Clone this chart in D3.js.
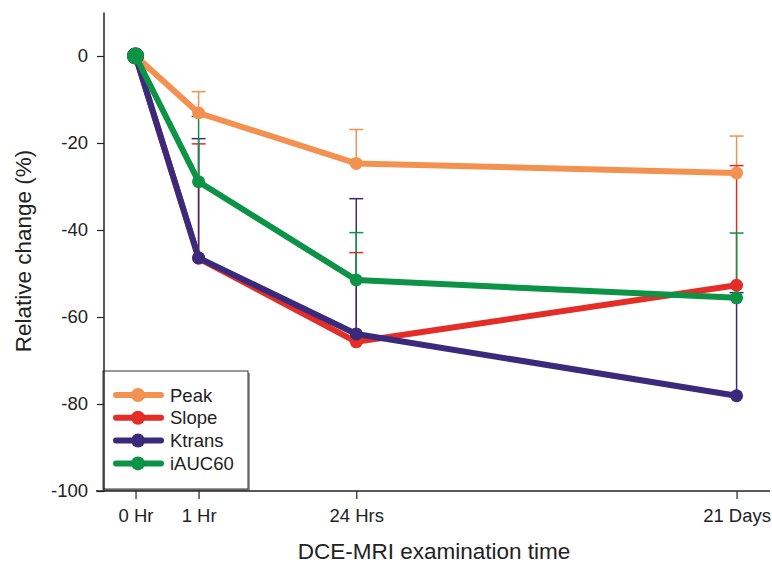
<!DOCTYPE html>
<html>
<head>
<meta charset="utf-8">
<script src="https://cdn.jsdelivr.net/npm/d3@7"></script>
<style>
  body { margin: 0; background: #fff; }
  svg { font-family: "Liberation Sans", Arial, sans-serif; }
</style>
</head>
<body>
<svg id="chart" width="772" height="570"></svg>
<script>
// time points and their place along the (non-linear) x axis
const timeLabels = ['0 Hr', '1 Hr', '24 Hrs', '21 Days'];
const timePos = [0, 1, 3.5, 9.53];

const seriesNames = ['Peak', 'Slope', 'Ktrans', 'iAUC60'];
const seriesColors = ['#F39150', '#E42D27', '#3B2A7C', '#0C9346'];

// mean relative change (%)
const peakMean = [0, -13.1, -24.7, -26.9];
const slopeMean = [0, -46.5, -65.7, -52.7];
const ktransMean = [0, -46.4, -63.9, -78.1];
const iaucMean = [0, -28.9, -51.5, -55.6];

// top of the error bar (%), null = no bar
const peakErr = [null, -8.2, -16.9, -18.4];
const slopeErr = [null, -20.2, -45.2, -25.2];
const ktransErr = [null, -19.0, -32.8, -54.4];
const iaucErr = [null, -13.9, -40.6, -40.7];

const yTicks = [0, -20, -40, -60, -80, -100];

const means = [peakMean, slopeMean, ktransMean, iaucMean];
const errs = [peakErr, slopeErr, ktransErr, iaucErr];

const svg = d3.select('#chart');

const x = d3.scaleLinear().domain([-0.5, 10.06]).range([104, 770]);
const y = d3.scaleLinear().domain([-100, 10]).range([491, 12.5]);

// legend box (behind the axes)
let legend = svg.append('g');
legend.append('rect')
    .attr('x', 105).attr('y', 373)
    .attr('width', 145).attr('height', 118)
    .attr('fill', '#999');
legend.append('rect')
    .attr('x', 103).attr('y', 371)
    .attr('width', 145).attr('height', 118)
    .attr('fill', '#fff')
    .attr('stroke', '#333')
    .attr('stroke-width', 1);

seriesNames.forEach(function(name, i) {
    let ly = 395 + i * 22.8;
    legend.append('line')
        .attr('x1', 116).attr('x2', 161)
        .attr('y1', ly).attr('y2', ly)
        .attr('stroke', seriesColors[i])
        .attr('stroke-width', 6)
        .attr('stroke-linecap', 'round');
    legend.append('circle')
        .attr('cx', 138).attr('cy', ly).attr('r', 7)
        .attr('fill', seriesColors[i]);
    legend.append('text')
        .attr('x', 170).attr('y', ly + 6.5)
        .attr('font-size', 18.5)
        .attr('fill', '#222')
        .text(name);
});

// axes
let yAxis = svg.append('g')
    .attr('transform', 'translate(104,0)')
    .call(d3.axisLeft(y).tickValues(yTicks)
        .tickFormat(function(d) { return String(d); })
        .tickSize(7).tickSizeOuter(0).tickPadding(9));
yAxis.select('.domain').remove();
yAxis.append('line')
    .attr('x1', 0).attr('x2', 0)
    .attr('y1', y(10)).attr('y2', y(-100) + 1)
    .attr('stroke', '#222').attr('stroke-width', 1.5);
yAxis.selectAll('.tick line').attr('stroke', '#222').attr('stroke-width', 1.2);
yAxis.selectAll('.tick text')
    .attr('font-size', 18.5)
    .attr('font-family', '"Liberation Sans", Arial, sans-serif')
    .attr('fill', '#222');

let xAxis = svg.append('g')
    .attr('transform', 'translate(0,491)')
    .call(d3.axisBottom(x).tickValues(timePos)
        .tickFormat(function(d, i) { return timeLabels[i]; })
        .tickSize(8).tickSizeOuter(0).tickPadding(10));
xAxis.select('.domain').remove();
xAxis.append('line')
    .attr('x1', 96).attr('x2', 770)
    .attr('y1', 0).attr('y2', 0)
    .attr('stroke', '#222').attr('stroke-width', 1.5);
xAxis.selectAll('.tick line').attr('stroke', '#222').attr('stroke-width', 1.2);
xAxis.selectAll('.tick text')
    .attr('font-size', 18.5)
    .attr('font-family', '"Liberation Sans", Arial, sans-serif')
    .attr('fill', '#222');

// axis titles
svg.append('text')
    .attr('x', 434).attr('y', 559)
    .attr('text-anchor', 'middle')
    .attr('font-size', 22.5)
    .attr('fill', '#222')
    .text('DCE-MRI examination time');

svg.append('text')
    .attr('transform', 'translate(31,251) rotate(-90)')
    .attr('text-anchor', 'middle')
    .attr('font-size', 22.5)
    .attr('fill', '#222')
    .text('Relative change (%)');

// error bars
const capW = 7;
means.forEach(function(vals, s) {
    let g = svg.append('g');
    vals.forEach(function(v, i) {
        let e = errs[s][i];
        if (e === null) return;
        g.append('line')
            .attr('x1', x(timePos[i])).attr('x2', x(timePos[i]))
            .attr('y1', y(v)).attr('y2', y(e))
            .attr('stroke', seriesColors[s])
            .attr('stroke-width', 1.5);
        g.append('line')
            .attr('x1', x(timePos[i]) - capW).attr('x2', x(timePos[i]) + capW)
            .attr('y1', y(e)).attr('y2', y(e))
            .attr('stroke', seriesColors[s])
            .attr('stroke-width', 1.5);
    });
});

// lines and markers
let line = d3.line()
    .x(function(d) { return x(d[0]); })
    .y(function(d) { return y(d[1]); });

means.forEach(function(vals, s) {
    let pts = vals.map(function(v, i) { return [timePos[i], v]; });
    svg.append('path')
        .attr('d', line(pts))
        .attr('fill', 'none')
        .attr('stroke', seriesColors[s])
        .attr('stroke-width', 6)
        .attr('stroke-linejoin', 'round');
    svg.selectAll(null)
        .data(pts)
        .enter()
        .append('circle')
        .attr('cx', function(d) { return x(d[0]); })
        .attr('cy', function(d) { return y(d[1]); })
        .attr('r', function(d, i) { return i === 0 ? 8.5 : 6.5; })
        .attr('fill', seriesColors[s]);
});
</script>
</body>
</html>
